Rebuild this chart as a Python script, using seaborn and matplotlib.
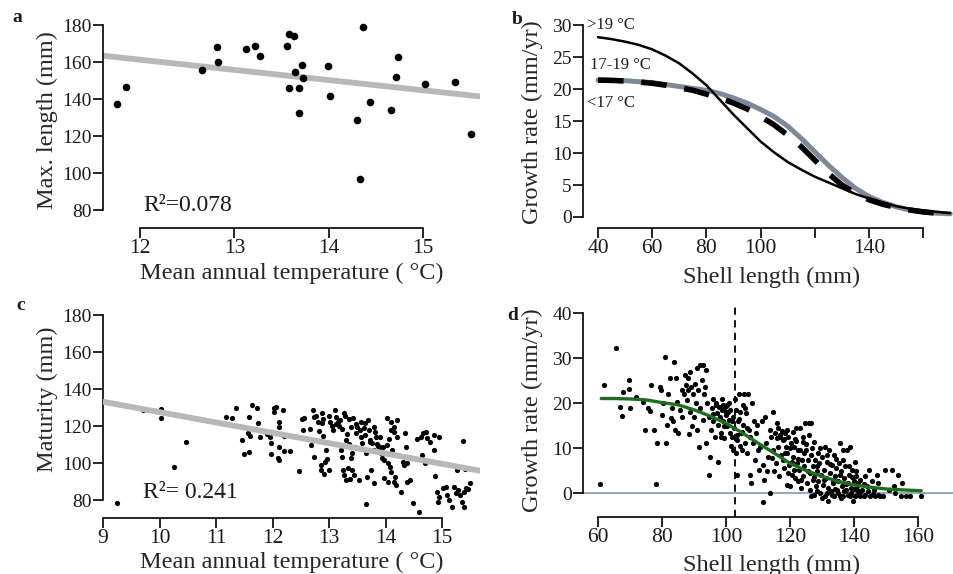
import numpy as np
import pandas as pd
import matplotlib
matplotlib.use("Agg")
import matplotlib.pyplot as plt
import seaborn as sns

# ---------------- data ----------------
# panel a: max length vs temperature
a_temp = [11.76, 11.85, 12.66, 12.81, 12.83, 13.12, 13.22, 13.27, 13.56, 13.58,
          13.63, 13.64, 13.58, 13.68, 13.68, 13.71, 13.73, 13.99, 14.01, 14.30,
          14.33, 14.36, 14.43, 14.66, 14.71, 14.73, 15.02, 15.33, 15.50]
a_len = [137.3, 146.5, 155.9, 167.9, 160.2, 167.2, 168.8, 163.4, 168.8, 175.0,
         174.1, 154.8, 146.1, 145.8, 132.3, 158.2, 151.2, 157.8, 141.4, 128.8,
         96.9, 178.7, 138.2, 134.2, 151.9, 162.7, 147.9, 149.4, 121.3]
fit_a_x = [11.61, 15.60]
fit_a_y = [163.4, 141.4]

# panel b: fitted growth curves
b_len = [40, 45, 50, 55, 60, 65, 70, 75, 80, 85, 90, 95, 100, 105, 110, 115, 120, 125, 130, 135, 140, 145, 150, 155, 160, 165, 170]
b_hot = [28.1, 27.8, 27.4, 26.9, 26.2, 25.2, 24.0, 22.4, 20.6, 18.3, 16.0, 13.9, 11.8, 10.1, 8.6, 7.4, 6.3, 5.4, 4.5, 3.6, 2.9, 2.3, 1.7, 1.3, 1.0, 0.8, 0.6]
b_mid = [21.4, 21.35, 21.25, 21.1, 20.9, 20.6, 20.2, 19.8, 19.2, 18.6, 17.8, 16.9, 15.7, 14.4, 12.8, 11.0, 8.9, 6.8, 5.0, 3.7, 2.7, 2.0, 1.5, 1.1, 0.8, 0.6, 0.5]
b_cold = [21.4, 21.35, 21.3, 21.15, 21.0, 20.7, 20.4, 20.1, 19.8, 19.3, 18.6, 17.8, 16.8, 15.7, 14.2, 12.3, 10.2, 8.1, 6.2, 4.5, 3.2, 2.3, 1.6, 1.1, 0.8, 0.6, 0.5]
b_labels = [">19 °C", "17-19 °C", "<17 °C"]

# panel c: maturity vs temperature
c_temp_1 = [9.24, 9.71, 10.02, 10.02, 10.25, 10.46]
c_mat_1 = [78.2, 128.6, 124.5, 129.2, 97.8, 111.4]
c_temp_2 = [11.17, 11.29, 11.35, 11.46, 11.50, 11.57, 11.59, 11.59, 11.64, 11.73,
            11.75, 11.77, 11.90, 11.60, 11.96, 11.97, 11.98, 12.02, 12.03, 12.06,
            12.11, 12.12, 12.12, 12.09, 12.11, 12.18, 12.21, 12.31, 12.20]
c_mat_2 = [125.0, 124.1, 129.5, 112.4, 104.7, 116.4, 125.0, 106.1, 131.4, 129.5,
           121.4, 114.2, 115.7, 114.8, 114.2, 110.6, 104.7, 129.5, 127.4, 130.1,
           122.0, 119.3, 108.8, 102.5, 101.6, 128.6, 106.5, 106.5, 114.8]
c_temp_3 = [12.47, 12.52, 12.56, 12.53, 12.66, 12.68, 12.72, 12.73, 12.77, 12.74,
            12.80, 12.82, 12.88, 12.89, 12.89, 12.86, 12.91, 12.92, 12.94, 12.88,
            12.96, 12.99, 12.85]
c_mat_3 = [95.7, 123.8, 124.1, 117.8, 118.2, 109.5, 128.6, 125.0, 125.4, 103.4,
           122.3, 117.5, 126.8, 123.8, 114.6, 96.2, 93.9, 100.7, 107.0, 121.4,
           101.9, 96.2, 98.9]
c_temp_4 = [13.02, 13.07, 13.10, 13.12, 13.15, 13.18, 13.20, 13.21, 13.23, 13.26,
            13.29, 13.30, 13.32, 13.24, 13.27, 13.30, 13.33, 13.35, 13.38, 13.41,
            13.40, 13.44, 13.45, 13.37, 13.43, 13.47, 13.38]
c_mat_4 = [122.3, 117.8, 128.6, 125.0, 122.3, 120.0, 123.2, 107.0, 103.4, 126.8,
           125.4, 112.4, 115.5, 96.2, 93.5, 90.8, 97.1, 110.3, 102.5, 105.2,
           96.2, 93.5, 108.8, 91.2, 124.1, 116.0, 119.6]
c_temp_5 = [13.50, 13.53, 13.56, 13.56, 13.59, 13.62, 13.63, 13.64, 13.66, 13.66,
            13.67, 13.70, 13.72, 13.73, 13.75, 13.76, 13.79, 13.80, 13.82, 13.84,
            13.87, 13.90, 13.91, 13.94, 13.96, 13.97, 13.98, 13.83]
c_mat_5 = [119.6, 90.8, 114.2, 122.3, 110.6, 118.7, 121.4, 115.1, 77.7, 105.2,
           92.6, 117.8, 112.4, 111.5, 96.2, 110.6, 89.4, 107.0, 116.9, 110.3,
           109.4, 108.8, 105.2, 102.5, 108.8, 91.7, 101.6, 114.2]
c_temp_6 = [14.02, 14.03, 14.04, 14.05, 14.08, 14.09, 14.10, 14.10, 14.12, 14.14,
            14.15, 14.17, 14.18, 14.20, 14.21, 14.27, 14.30, 14.33, 14.36, 14.34,
            14.37, 14.38, 14.44, 14.49]
c_mat_6 = [124.5, 109.7, 99.8, 89.9, 98.0, 117.8, 122.3, 95.3, 107.0, 116.9,
           89.9, 92.6, 88.1, 123.2, 114.2, 84.5, 100.7, 98.9, 108.8, 116.0,
           99.8, 89.9, 90.8, 78.2]
c_temp_7 = [14.56, 14.59, 14.62, 14.65, 14.67, 14.69, 14.71, 14.74, 14.79, 14.86,
            14.87, 14.86, 14.95]
c_mat_7 = [112.8, 73.7, 114.2, 104.3, 116.4, 99.8, 116.9, 113.3, 111.5, 107.0,
           93.0, 115.1, 114.2]
c_temp_8 = [14.91, 14.93, 14.95, 15.01, 15.07, 15.09, 15.12, 15.17, 15.21, 15.24,
            15.26, 15.28, 15.32, 15.35, 15.37, 15.38, 15.39, 15.42, 15.45, 15.49, 15.41]
c_mat_8 = [84.1, 79.1, 81.8, 86.3, 87.2, 82.7, 80.0, 76.0, 87.2, 83.6,
           96.2, 85.4, 82.7, 79.1, 112.1, 76.4, 84.5, 86.3, 85.8, 89.4, 96.8]
c_temp_9 = [13.00, 13.05, 13.13, 13.22, 13.35, 13.47, 13.55, 13.68, 13.80, 13.90, 14.06, 14.15]
c_mat_9 = [125.5, 119.8, 121.0, 118.5, 124.0, 121.0, 118.0, 123.5, 119.5, 114.0, 113.0, 119.5]
fit_c_x = [9.0, 15.67]
fit_c_y = [133.1, 95.8]

# panel d: growth rate vs shell length
d_len_1 = [60.7, 61.9, 65.7, 66.8, 67.6, 67.8, 69.7, 69.7, 69.9, 71.8, 74.1, 74.8, 75.7, 76.7, 76.4, 77.6, 78.0, 78.5, 79.5, 79.8]
d_rate_1 = [2.1, 24.1, 32.3, 19.2, 17.1, 22.4, 25.2, 23.2, 19.0, 21.3, 20.3, 14.0, 19.0, 24.1, 18.3, 14.0, 2.1, 11.1, 23.6, 22.9]
d_len_2 = [80.0, 80.4, 80.9, 81.4, 81.7, 81.9, 82.4, 82.7, 83.0, 83.5, 83.7, 84.0, 84.5, 84.7, 85.1,
           85.6, 86.1, 86.3, 86.8, 87.1, 87.5, 87.7, 88.0, 88.2, 88.5, 88.7, 88.9, 89.2, 89.4, 89.7]
d_rate_2 = [17.3, 19.9, 30.3, 11.1, 15.1, 22.1, 25.5, 16.6, 18.8, 15.9, 29.2, 14.0, 25.5, 20.3, 13.3,
            18.5, 22.9, 17.0, 22.1, 26.2, 24.0, 20.7, 25.5, 22.9, 13.1, 18.1, 26.9, 23.6, 14.8, 22.1]
d_len_3 = [90.1, 90.3, 90.6, 90.8, 91.0, 91.3, 91.5, 91.8, 92.0, 92.4, 92.7, 92.9, 93.1, 93.4, 93.7,
           93.9, 94.2, 94.6, 94.8, 95.0, 95.2, 95.5, 95.8, 96.0, 96.5, 96.8, 97.1, 97.4, 97.6, 97.9,
           98.1, 98.3, 98.6, 98.9, 99.1, 99.4, 99.7, 96.0, 97.0, 98.0, 99.0, 99.5, 98.5]
d_rate_3 = [17.0, 24.2, 19.9, 14.0, 27.7, 22.9, 10.3, 28.4, 18.8, 25.1, 16.2, 28.4, 22.1, 23.6, 11.1,
            27.3, 19.9, 4.1, 17.0, 8.1, 14.0, 18.8, 21.0, 15.9, 12.5, 19.6, 17.7, 7.0, 15.1, 19.2,
            17.0, 13.3, 21.0, 18.5, 15.9, 12.2, 19.2, 17.5, 20.0, 16.5, 19.5, 15.0, 12.5]
d_len_4 = [100.0, 100.2, 100.4, 100.7, 101.0, 101.2, 101.4, 101.8, 102.1, 102.3, 102.5, 102.8,
           103.1, 103.3, 103.5, 103.8, 104.2, 104.4, 104.6, 104.9, 105.2, 105.4, 105.7, 106.0,
           106.2, 106.5, 107.0, 107.3, 107.5, 107.7, 108.0, 108.3, 108.7, 109.1, 109.4, 109.8,
           100.0, 101.0, 102.0, 103.0, 104.0, 105.0, 106.0, 101.5, 103.5, 104.5, 106.5, 107.5]
d_rate_4 = [17.3, 14.8, 19.6, 18.1, 16.2, 13.3, 18.5, 12.5, 17.0, 9.6, 14.4, 21.0,
            8.9, 11.8, 4.1, 15.9, 22.1, 18.1, 13.3, 9.6, 19.6, 15.1, 22.1, 11.1,
            17.7, 8.9, 22.1, 14.0, 4.1, 2.2, 19.9, 11.1, 15.9, 7.4, 13.3, 15.1,
            18.0, 20.0, 16.0, 18.5, 16.5, 13.5, 19.0, 10.5, 12.8, 10.5, 14.5, 12.5]
d_len_5 = [110.1, 110.4, 110.6, 111.1, 111.5, 111.7, 111.9, 112.2, 112.5, 112.9, 113.2, 113.6,
           113.8, 114.0, 114.3, 114.6, 114.8, 115.1, 115.3, 115.6, 115.8, 116.1, 116.4, 116.7,
           116.9, 117.2, 117.4, 117.7, 117.9, 118.2, 118.5, 118.8, 119.0, 119.2, 119.5, 119.8,
           116.0, 117.0, 118.0, 119.0, 118.5, 119.5]
d_rate_5 = [9.6, 5.2, 10.3, 15.9, 6.3, -2.1, 3.0, 17.0, 11.1, 4.8, 8.1, 14.0,
            0.1, 12.5, 7.7, 18.1, 9.6, 4.8, 13.3, 6.6, 12.2, 14.4, 10.3, 3.7,
            12.5, 8.5, 13.7, 7.4, 11.8, 5.5, 13.3, 10.3, 1.8, 8.9, 12.5, 6.3,
            15.5, 13.0, 12.0, 14.0, 9.0, 4.5]
d_len_6 = [120.0, 120.2, 120.5, 120.9, 121.1, 121.4, 121.6, 121.9, 122.1, 122.4, 122.6, 122.9,
           123.2, 123.4, 123.7, 124.0, 124.2, 124.4, 124.7, 125.0, 125.2, 125.6, 125.8, 126.1,
           126.3, 126.6, 126.8, 127.1, 127.3, 127.6, 127.8, 128.2, 128.4, 128.7, 128.9, 129.2,
           129.4, 129.7, 129.9,
           120.0, 121.0, 122.0, 123.0, 124.0, 125.0, 126.0, 126.5, 120.5, 121.5, 122.5, 123.5,
           124.5, 125.5, 126.5, 127.5, 128.5, 129.5, 127.5, 128.5]
d_rate_6 = [1.5, 11.1, 4.1, 8.1, 5.2, 10.3, 3.3, 14.4, 6.6, 2.6, 9.6, 5.2,
            14.4, 1.1, 7.4, 11.4, 3.7, 5.9, 15.5, 9.6, 2.2, 7.4, 15.5, 4.4,
            0.7, -0.7, 10.0, 5.9, 3.0, 11.4, 7.4, 1.5, 4.8, 8.9, 2.6, 6.6,
            0.0, 4.1, 8.1,
            10.0, 13.5, 11.5, 9.5, 12.5, 11.0, 13.0, 15.5, 7.0, 12.0, 7.5, 3.0,
            9.0, 5.0, 8.5, 3.5, 6.0, 10.0, -0.5, 0.5]
d_len_7 = [130.3, 130.5, 130.8, 131.0, 131.3, 131.5, 131.8, 132.0, 132.3, 132.5, 132.9, 133.1,
           133.4, 133.6, 133.9, 134.1, 134.4, 134.6, 134.9, 135.2, 135.5, 135.7, 136.0, 136.2,
           136.5, 136.7, 137.0, 137.2, 137.6, 137.8, 138.1, 138.3, 138.6, 138.8, 139.1, 139.3,
           139.6, 139.9,
           130.0, 131.5, 133.0, 134.0, 135.0, 136.0, 137.0, 138.0, 139.0, 130.5, 131.5, 132.5,
           133.5, 134.5, 135.5, 136.5, 137.5, 138.5, 139.5]
d_rate_7 = [1.8, 5.2, 10.3, -0.7, 3.3, 7.0, 1.1, -1.8, 9.6, 4.4, 0.4, 6.3,
            2.2, 8.5, -0.7, 3.7, 5.5, 0.7, 2.6, 6.6, -0.7, 11.1, 4.8, 1.5,
            7.4, -0.7, 3.3, 5.9, 0.7, 9.6, 2.2, 4.1, 10.3, -0.7, 1.1, 5.2,
            -1.8, 2.6,
            -1.0, 0.0, -0.5, 1.0, 0.0, -1.0, 0.5, -0.5, 0.0, 3.0, 8.5, 6.5,
            3.0, 7.5, 4.0, 9.5, 2.0, 6.0, 3.5]
d_len_8 = [140.2, 140.4, 140.7, 140.9, 141.4, 141.9, 142.5, 143.0, 143.5, 144.0, 144.6, 145.1,
           145.6, 146.1, 146.6, 147.2, 147.4, 148.2, 149.2, 149.8, 150.8, 151.9, 152.4, 152.9,
           153.9, 155.0, 154.7, 156.3, 157.6, 160.9,
           140.0, 141.0, 142.0, 143.5, 144.5, 146.0, 147.5, 140.5, 141.0, 142.0, 143.0]
d_rate_8 = [7.0, -0.7, 3.7, 0.7, 2.2, -0.7, 0.7, -0.7, 3.7, 1.5, 5.2, -0.7,
            2.6, 0.7, -0.7, 4.1, 2.2, -0.7, -0.7, 5.2, 0.7, 5.2, 1.5, 0.0,
            4.1, 2.2, -0.7, -0.7, -0.7, -0.7,
            1.0, -0.5, 0.3, -0.5, 0.5, -0.3, -0.5, 5.0, 1.5, 3.0, 2.0]
d_fit_len = [61, 65, 70, 75, 80, 85, 90, 95, 100, 105, 110, 115, 120, 125, 130, 135, 140, 145, 150, 155, 161]
d_fit_rate = [21.0, 21.0, 20.9, 20.7, 20.1, 19.6, 18.5, 17.1, 15.5, 13.4, 11.1, 8.9, 6.6, 5.0, 3.7, 2.6, 1.8, 1.3, 0.9, 0.7, 0.5]
d_vline = 102.9

# ---------------- figure ----------------
sns.set_style("ticks")
plt.rcParams["font.family"] = ["Liberation Serif", "DejaVu Serif"]
plt.rcParams["text.color"] = "#1a1a1a"

W, H = 954, 574
fig = plt.figure(figsize=(W / 100, H / 100), dpi=100)


def add_ax(l, t, r, b):
    return fig.add_axes([l / W, 1 - b / H, (r - l) / W, (b - t) / H])


def style(ax, xlim, ylim, xb, yb, xt, yt, xtl=None):
    ax.set_facecolor("none")
    ax.set_xlim(*xlim)
    ax.set_ylim(*ylim)
    for s in ["top", "right"]:
        ax.spines[s].set_visible(False)
    for s in ["left", "bottom"]:
        ax.spines[s].set_linewidth(1.2)
        ax.spines[s].set_color("black")
    ax.spines["left"].set_bounds(*yb)
    ax.spines["bottom"].set_bounds(*xb)
    ax.set_xticks(xt)
    if xtl is not None:
        ax.set_xticklabels(xtl)
    ax.set_yticks(yt)
    ax.tick_params(axis="both", direction="out", length=7, width=1.2, color="black",
                   labelcolor="#1a1a1a")
    ax.tick_params(axis="x", labelsize=15.5, pad=1)
    ax.tick_params(axis="y", labelsize=14, pad=1)
    ax.set_xlabel("")
    ax.set_ylabel("")


def labels(ax, xl, xpos, yl, ypos):
    ax.set_xlabel(xl, fontsize=17.5)
    ax.xaxis.set_label_coords(xpos[0] / W, 1 - xpos[1] / H, transform=fig.transFigure)
    ax.xaxis.label.set_va("center")
    ax.set_ylabel(yl, fontsize=17.5)
    ax.yaxis.set_label_coords(ypos[0] / W, 1 - ypos[1] / H, transform=fig.transFigure)
    ax.yaxis.label.set_va("center")
    ax.yaxis.label.set_ha("center")


# ---- panel a ----
ax = add_ax(103, 18, 480, 228)
sns.lineplot(x=fit_a_x, y=fit_a_y, ax=ax, color="#b8b8b8", linewidth=4.2, zorder=2)
sns.scatterplot(x=a_temp, y=a_len, ax=ax, color="black", s=30, linewidth=0, zorder=3)
style(ax, (11.608, 15.60), (70.27, 183.8), (12, 15), (80, 180), [12, 13, 14, 15], [80, 100, 120, 140, 160, 180])
labels(ax, "Mean annual temperature ( °C)", (292, 273), "Max. length (mm)", (47, 120))
ax.text(143 / W, 1 - 205 / H, "R²=0.078", transform=fig.transFigure, fontsize=17, va="center", ha="left")

# ---- panel b ----
ax = add_ax(583, 18, 954, 228)
sns.lineplot(x=b_len, y=b_cold, ax=ax, color="#7d8996", linewidth=3.6, zorder=2)
sns.lineplot(x=b_len, y=b_mid, ax=ax, color="black", linewidth=4.0, linestyle=(0, (4.6, 3.2)), zorder=3)
sns.lineplot(x=b_len, y=b_hot, ax=ax, color="black", linewidth=1.8, zorder=4)
style(ax, (34.46, 171.4), (-1.72, 31.1), (40, 160), (0, 30),
      [40, 60, 80, 100, 120, 140, 160], [0, 5, 10, 15, 20, 25, 30],
      ["40", "60", "80", "100", "", "140", ""])
labels(ax, "Shell length (mm)", (772, 277), "Growth rate (mm/yr)", (532, 122))
for lab, (px, py) in zip(b_labels, [(587, 25), (590, 65), (587, 103)]):
    ax.text(px / W, 1 - py / H, lab, transform=fig.transFigure, fontsize=12, va="center", ha="left")

# ---- panel c ----
ax = add_ax(103, 308, 480, 518)
c_temp = c_temp_1 + c_temp_2 + c_temp_3 + c_temp_4 + c_temp_5 + c_temp_6 + c_temp_7 + c_temp_8 + c_temp_9
c_mat = c_mat_1 + c_mat_2 + c_mat_3 + c_mat_4 + c_mat_5 + c_mat_6 + c_mat_7 + c_mat_8 + c_mat_9
sns.scatterplot(x=c_temp, y=c_mat, ax=ax, color="black", s=14, linewidth=0, zorder=2)
sns.lineplot(x=fit_c_x, y=fit_c_y, ax=ax, color="#b8b8b8", linewidth=4.2, zorder=3)
style(ax, (9.0, 15.67), (70.27, 183.8), (9, 15), (80, 180), [9, 10, 11, 12, 13, 14, 15], [80, 100, 120, 140, 160, 180])
labels(ax, "Mean annual temperature ( °C)", (292, 562), "Maturity (mm)", (47, 399))
ax.text(143 / W, 1 - 493 / H, "R²= 0.241", transform=fig.transFigure, fontsize=17, va="center", ha="left")

# ---- panel d ----
ax = add_ax(583, 305, 954, 517)
d_len = d_len_1 + d_len_2 + d_len_3 + d_len_4 + d_len_5 + d_len_6 + d_len_7 + d_len_8
d_rate = d_rate_1 + d_rate_2 + d_rate_3 + d_rate_4 + d_rate_5 + d_rate_6 + d_rate_7 + d_rate_8
ax.axhline(0, color="#8ea0b6", linewidth=1.3, zorder=1)
ax.axvline(d_vline, color="black", linewidth=1.3, linestyle=(0, (4, 3)), zorder=1)
sns.scatterplot(x=d_len, y=d_rate, ax=ax, color="black", s=14, linewidth=0, zorder=2)
sns.lineplot(x=d_fit_len, y=d_fit_rate, ax=ax, color="#1f6e1f", linewidth=2.4, zorder=3)
style(ax, (55.31, 171.25), (-5.33, 41.78), (60, 160), (0, 40),
      [60, 80, 100, 120, 140, 160], [0, 10, 20, 30, 40])
labels(ax, "Shell length (mm)", (772, 565), "Growth rate (mm/yr)", (532, 410))

# panel letters
for lab, (px, py) in zip(["a", "b", "c", "d"], [(17, 17), (517, 19), (21, 305), (513, 315)]):
    fig.text(px / W, 1 - py / H, lab, fontsize=14, fontweight="bold", va="center", ha="center")

fig.savefig("out.png", dpi=100)
